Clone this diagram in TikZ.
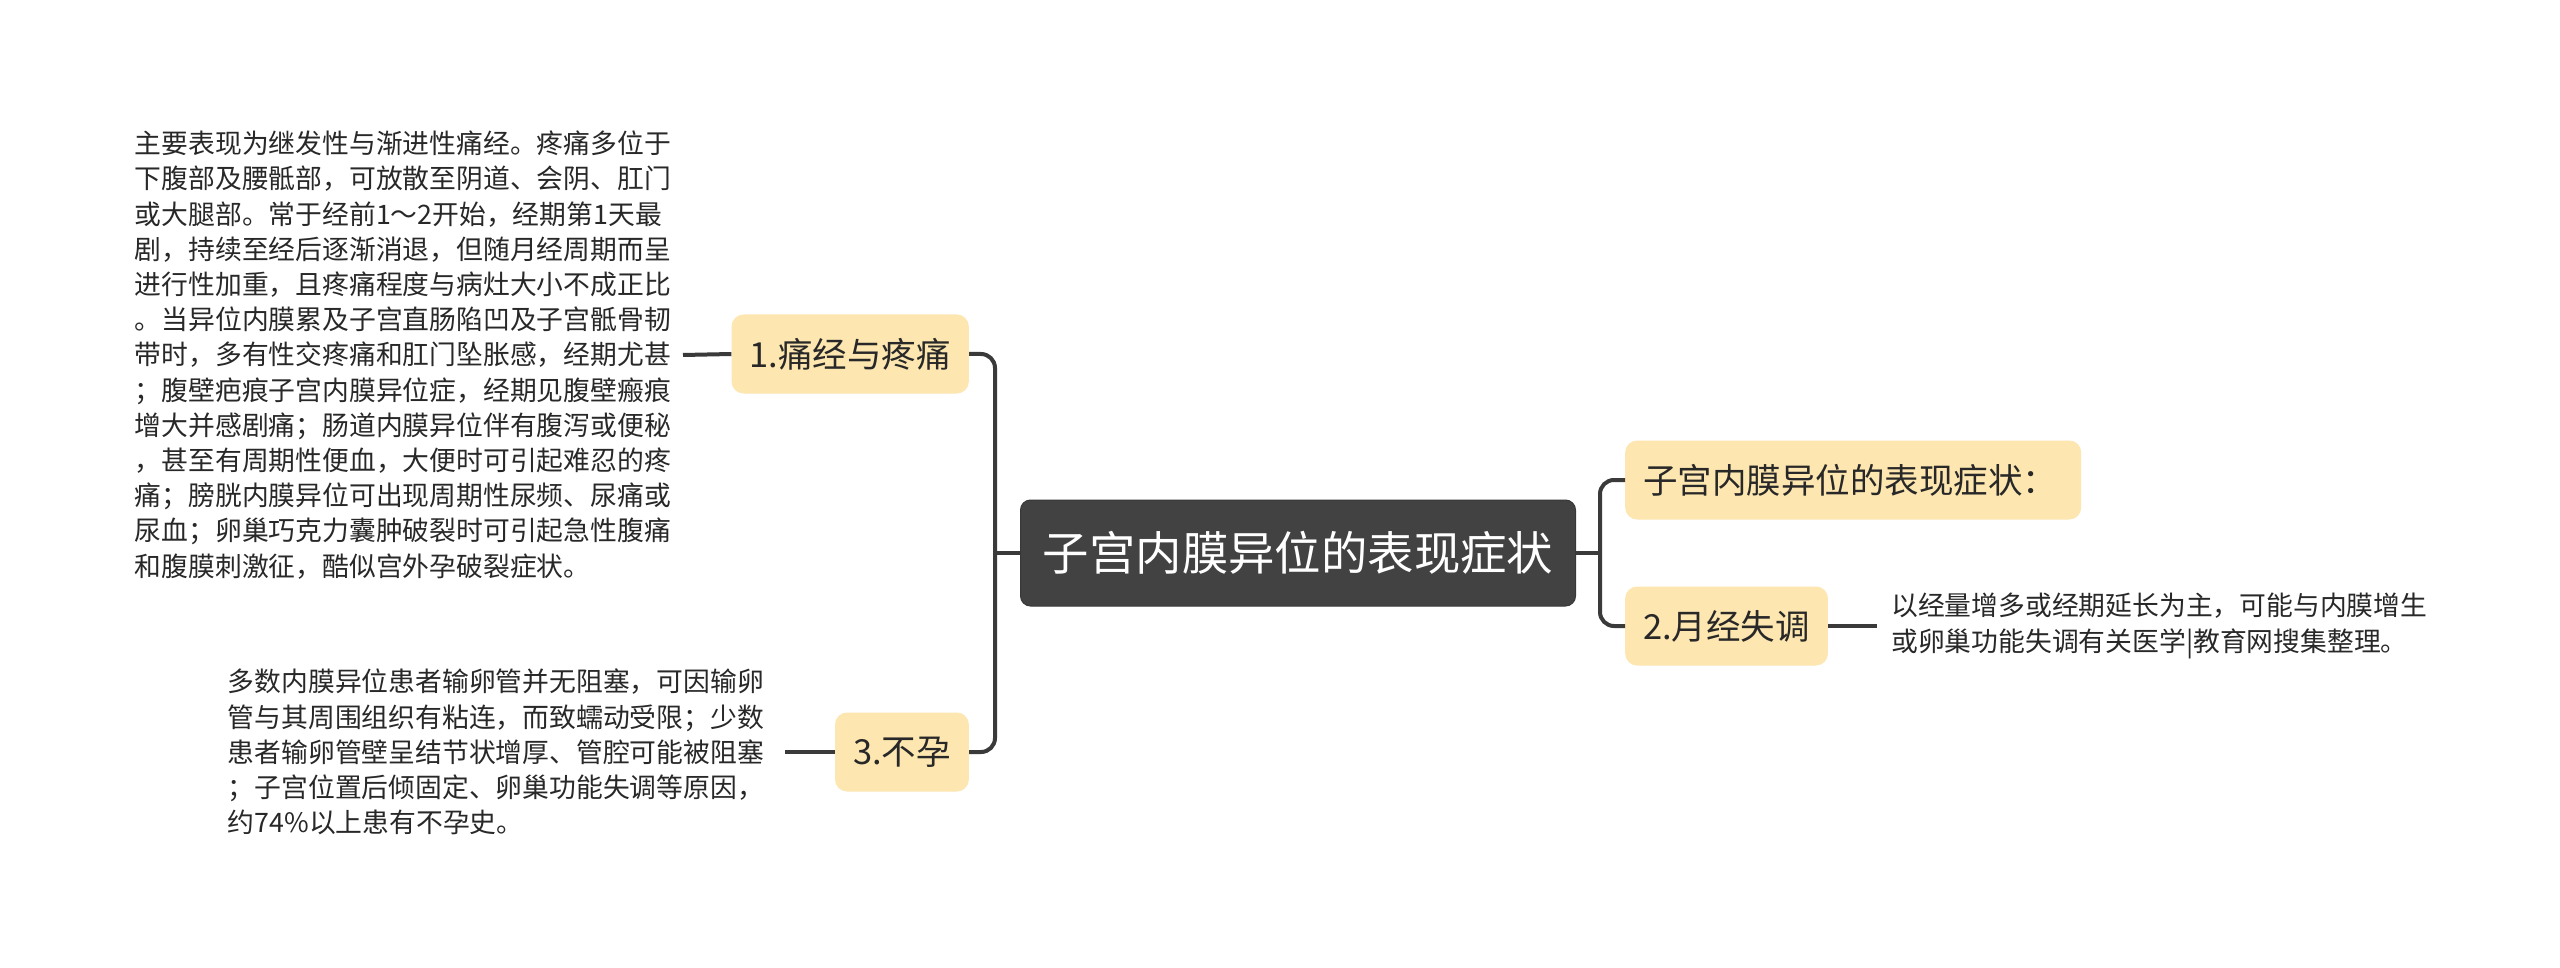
\documentclass[tikz,border=0pt]{standalone}
\usepackage{fontspec}
\setmainfont{Noto Sans CJK SC}
\definecolor{brfill}{RGB}{253,230,176}
\definecolor{cfill}{RGB}{66,66,66}
\definecolor{lc}{RGB}{58,58,58}
\definecolor{tc}{RGB}{40,40,40}
\begin{document}
\begin{tikzpicture}[x=1pt,y=-1pt,
  central/.style={fill=cfill, draw=cfill!85!black, line width=1pt, rounded corners=10pt, text=white,
    font=\fontsize{46.4}{56}\selectfont, inner xsep=0pt, inner ysep=0pt, minimum width=555pt, minimum height=106pt},
  branch/.style={fill=brfill, rounded corners=12pt, text=tc,
    font=\fontsize{34.5}{40}\selectfont, inner xsep=18pt, inner ysep=0pt, minimum height=79pt},
  leaf/.style={text=tc, font=\fontsize{26.8}{35.2}\selectfont, align=left, inner ysep=0pt},
  conn/.style={draw=lc, line width=4pt}]
\useasboundingbox (0,0) rectangle (2560,968);
\fill[white] (0,0) rectangle (2560,968);

\node[central] (c) at (1298,553) {子宫内膜异位的表现症状};

\node[branch, anchor=east] (b1) at (969,354) {1.痛经与疼痛};
\node[branch, anchor=east] (b3) at (969,752) {3.不孕};
\node[branch, anchor=west] (r1) at (1625,480) {子宫内膜异位的表现症状：\hspace*{6pt}};
\node[branch, anchor=west] (r2) at (1625,626) {2.月经失调};

\node[leaf, anchor=east, inner xsep=12pt] (t1) at (683,355) {主要表现为继发性与渐进性痛经。疼痛多位于\\
下腹部及腰骶部，可放散至阴道、会阴、肛门\\
或大腿部。常于经前1～2开始，经期第1天最\\
剧，持续至经后逐渐消退，但随月经周期而呈\\
进行性加重，且疼痛程度与病灶大小不成正比\\
。当异位内膜累及子宫直肠陷凹及子宫骶骨韧\\
带时，多有性交疼痛和肛门坠胀感，经期尤甚\\
；腹壁疤痕子宫内膜异位症，经期见腹壁瘢痕\\
增大并感剧痛；肠道内膜异位伴有腹泻或便秘\\
，甚至有周期性便血，大便时可引起难忍的疼\\
痛；膀胱内膜异位可出现周期性尿频、尿痛或\\
尿血；卵巢巧克力囊肿破裂时可引起急性腹痛\\
和腹膜刺激征，酷似宫外孕破裂症状。};

\node[leaf, anchor=east, inner xsep=21pt] (t3) at (785,752) {多数内膜异位患者输卵管并无阻塞，可因输卵\\
管与其周围组织有粘连，而致蠕动受限；少数\\
患者输卵管壁呈结节状增厚、管腔可能被阻塞\\
；子宫位置后倾固定、卵巢功能失调等原因，\\
约74\%以上患有不孕史。};

\node[leaf, anchor=west, inner xsep=14pt] (t2) at (1877,626) {以经量增多或经期延长为主，可能与内膜增生\\
或卵巢功能失调有关医学|教育网搜集整理。};

\coordinate (lbus) at (995,553);
\coordinate (rbus) at (1600,553);

\draw[conn] (c.west) -- (lbus);
\draw[conn, rounded corners=14pt] (b1.east) -| (lbus) |- (b3.east);
\draw[conn] (c.east) -- (rbus);
\draw[conn, rounded corners=14pt] (r1.west) -| (rbus) |- (r2.west);

\draw[conn] (b1.west) -- (t1.east);
\draw[conn] (b3.west) -- (t3.east);
\draw[conn] (r2.east) -- (t2.west);
\end{tikzpicture}
\end{document}
